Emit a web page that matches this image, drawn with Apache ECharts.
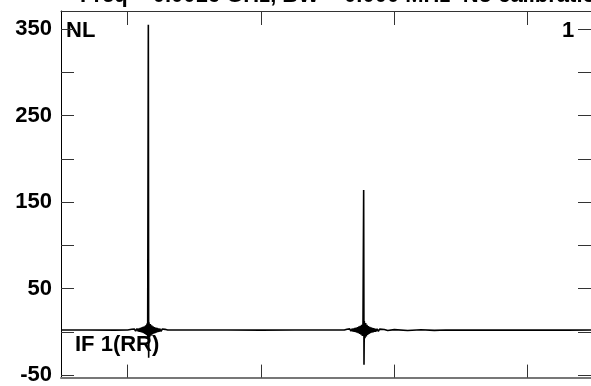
<!DOCTYPE html>
<html><head><meta charset="utf-8">
<script src="https://cdn.jsdelivr.net/npm/echarts@6/dist/echarts.min.js"></script>
<style>html,body{margin:0;padding:0;background:#fff}#c{width:591px;height:386px}</style>
</head><body><div id="c"></div>
<script>
// Data (x in channel units, y in display units)
const channels = [
  0,40,80,100,
  106,108,110,112,114,116,117,118,119,120,121,122,123,124,125,126,127,128,129,130,
  131,131.5,
  132,133,134,135,136,137,138,139,140,141,142,143,144,145,146,147,
  148,150,152,154,156,
  160,200,250,300,350,400,425,
  429,431,433,435,437,
  438,439,440,441,442,443,444,445,446,447,448,449,450,451,452,453,
  454,454.5,
  455,456,457,458,459,460,461,462,463,464,465,466,467,468,469,470,471,472,
  474,476,478,480,
  485,490,500,520,540,560,577,
  650,720,760,795
];
const amplitude = [
  2,2.1,1.9,2,
  2.9,1.1,3.2,0.8,3.6,0.4,4.0,0.0,4.5,-0.5,5.0,-1.0,5.6,-1.7,6.4,-2.5,7.5,-3.6,9.5,-6.0,
  355,-30,
  11,-6.5,9,-4.5,7.4,-3.2,6.3,-2.2,5.5,-1.5,4.9,-0.9,4.4,-0.4,4.0,0.0,
  3.6,0.5,3.2,0.9,2.8,
  2,2,2.1,1.9,2,2,2,
  2.9,1.1,3.3,0.7,3.7,
  0.3,4.0,-0.1,4.4,-0.5,4.9,-1.0,5.5,-1.6,6.2,-2.4,7.0,-3.3,8.2,-4.8,10.5,
  164,-38,
  12,-7.5,10,-5.5,8.0,-3.8,6.6,-2.6,5.7,-1.7,5.0,-1.1,4.5,-0.6,4.1,-0.2,3.7,0.2,
  3.4,0.6,3.1,1.0,
  2.6,1.4,2.5,1.5,2.4,1.6,2.1,
  1.9,2.1,1.9,2.0
];
const xTicks = [100,300,500,700];
const yTickLabels = [-50,50,150,250,350];
const yTicks = [-50,0,50,100,150,200,250,300,350];
const titleText = 'Freq = 0.0016 GHz, BW = 0.000 MHz  No calibration';
const cornerLeft = 'NL';
const cornerRight = '1';
const traceLabel = 'IF 1(RR)';

const FONT = 'Liberation Sans, Arial, sans-serif';
const chart = echarts.init(document.getElementById('c'), null, {renderer:'canvas'});
const pts = channels.map((c,i)=>[c, amplitude[i]]);
const tickStyle = {color:'#333', width:1};
chart.setOption({
  animation:false,
  grid:{left:61, top:11, right:0, bottom:6.5},
  xAxis:[
    {type:'value', position:'bottom', min:0, max:795,
     axisLine:{show:true, onZero:false, lineStyle:{color:'#777', width:2}},
     axisTick:{show:true, inside:true, length:13, customValues:xTicks, lineStyle:tickStyle},
     axisLabel:{show:false}, splitLine:{show:false}},
    {type:'value', position:'top', min:0, max:795,
     axisLine:{show:true, onZero:false, lineStyle:{color:'#333', width:1}},
     axisTick:{show:true, inside:true, length:14, customValues:xTicks, lineStyle:tickStyle},
     axisLabel:{show:false}, splitLine:{show:false}}
  ],
  yAxis:[
    {type:'value', position:'left', min:-53, max:371,
     axisLine:{show:true, onZero:false, lineStyle:{color:'#000', width:1}},
     axisTick:{show:true, inside:true, length:13, customValues:yTicks, lineStyle:tickStyle},
     axisLabel:{show:true, customValues:yTickLabels, margin:9, color:'#000', fontWeight:'bold', fontSize:22, fontFamily:FONT},
     splitLine:{show:false}},
    {type:'value', position:'right', min:-53, max:371,
     axisLine:{show:false, onZero:false},
     axisTick:{show:true, inside:true, length:13, customValues:yTicks, lineStyle:tickStyle},
     axisLabel:{show:false}, splitLine:{show:false}}
  ],
  series:[{type:'line', data:pts, showSymbol:false, symbol:'none', xAxisIndex:0, yAxisIndex:0,
    lineStyle:{color:'#000', width:1.6}, clip:true}],
  graphic:[
    {type:'text', left:80, top:-15, style:{text:titleText, font:'bold 22px '+FONT, fill:'#000'}},
    {type:'text', left:66, top:20, style:{text:cornerLeft, font:'bold 22px '+FONT, fill:'#000'}},
    {type:'text', left:562, top:20, style:{text:cornerRight, font:'bold 22px '+FONT, fill:'#000'}},
    {type:'text', left:75, top:334, style:{text:traceLabel, font:'bold 22px '+FONT, fill:'#000'}}
  ]
});
</script></body></html>
